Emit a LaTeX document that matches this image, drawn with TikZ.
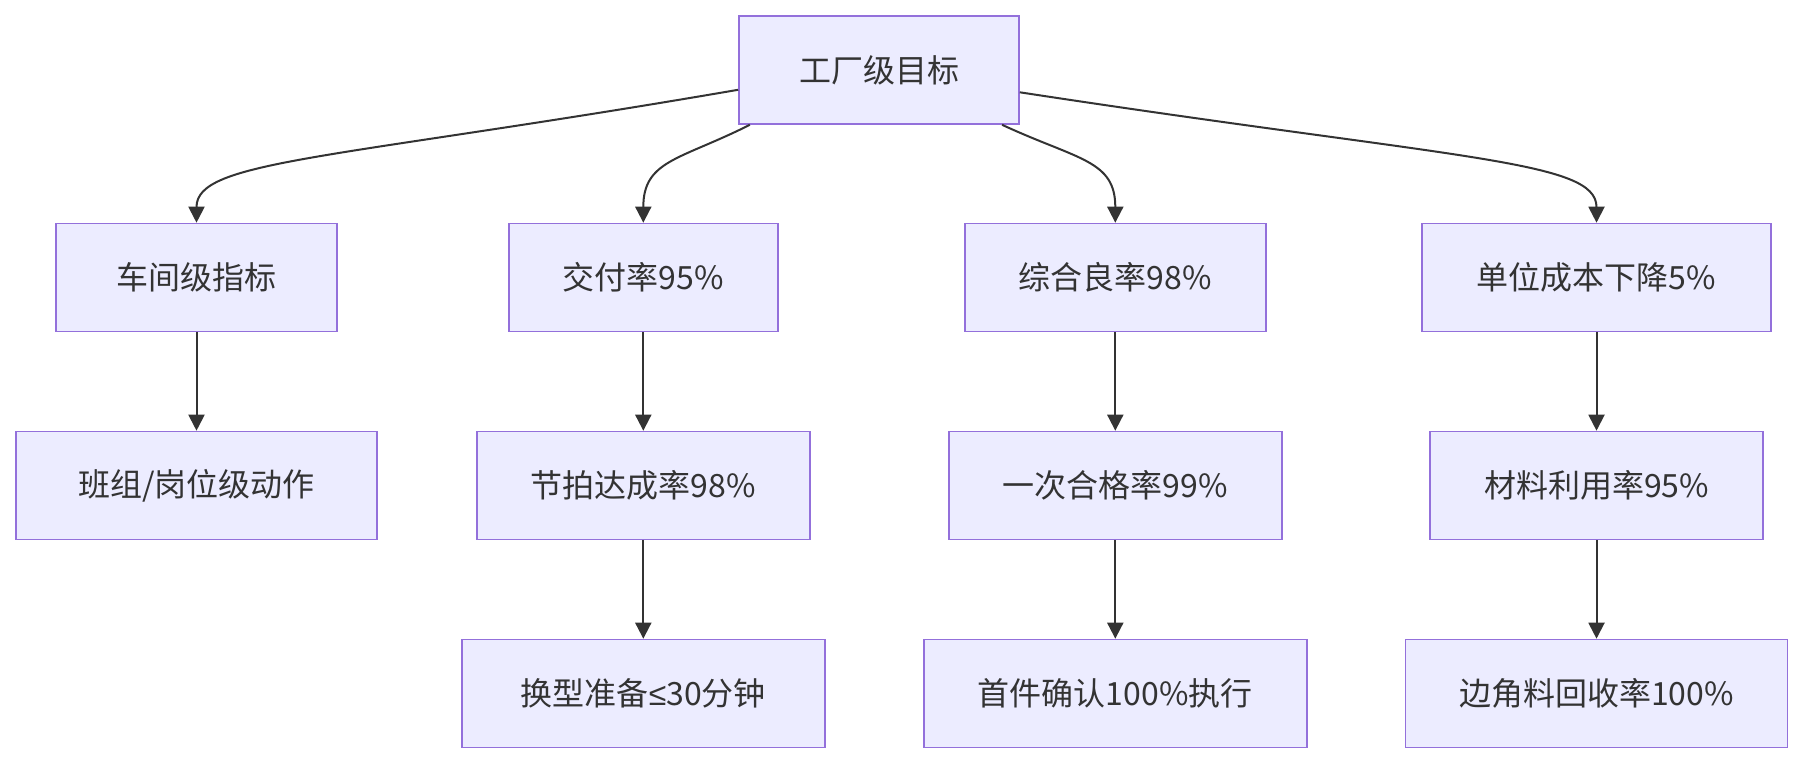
\documentclass[tikz,border=0pt]{standalone}
\usepackage{fontspec}
\setmainfont{Noto Sans CJK SC}
\newfontfamily\symfont{Liberation Sans}
\usetikzlibrary{arrows.meta}
\definecolor{kfill}{HTML}{ECECFF}
\definecolor{kline}{HTML}{9370DB}
\definecolor{ktext}{HTML}{333333}
\tikzset{
  kbox/.style={draw=kline, fill=kfill, line width=0.8pt, text=ktext, minimum height=54pt, inner sep=0pt, font=\fontsize{16pt}{19pt}\selectfont},
  karrow/.style={-{Triangle[length=8pt,width=8pt]}, draw=ktext, line width=1pt}
}

\begin{document}
\begin{tikzpicture}[x=0.5pt, y=-0.5pt]
    \useasboundingbox (0,0) rectangle (1803,764);
    \node[kbox, minimum width=140pt] (n0) at (879,70) {工厂级目标};
    \node[kbox, minimum width=140.5pt] (n11) at (196.5,277.5) {车间级指标};
    \node[kbox, minimum width=180.5pt] (n12) at (196.5,485.5) {班组/岗位级动作};
    \node[kbox, minimum width=134.5pt] (n21) at (643.3,277.5) {交付率95\%};
    \node[kbox, minimum width=166.5pt] (n22) at (643.3,485.5) {节拍达成率98\%};
    \node[kbox, minimum width=181.5pt] (n23) at (643.3,693.5) {换型准备{\symfont ≤}30分钟};
    \node[kbox, minimum width=150.5pt] (n31) at (1115.3,277.5) {综合良率98\%};
    \node[kbox, minimum width=166.5pt] (n32) at (1115.3,485.5) {一次合格率99\%};
    \node[kbox, minimum width=191.5pt] (n33) at (1115.3,693.5) {首件确认100\%执行};
    \node[kbox, minimum width=174.5pt] (n41) at (1596.5,277.5) {单位成本下降5\%};
    \node[kbox, minimum width=166.5pt] (n42) at (1596.5,485.5) {材料利用率95\%};
    \node[kbox, minimum width=191pt] (n43) at (1596.5,693.5) {边角料回收率100\%};
    \draw[karrow] (n0.188.5) .. controls (330,160) and (196.5,160) .. (n11.north);
    \draw[karrow] (n0.203.9) .. controls (680,160) and (643.3,160) .. (n21.north);
    \draw[karrow] (n0.336.9) .. controls (1078,160) and (1115.3,160) .. (n31.north);
    \draw[karrow] (n0.351.9) .. controls (1462,160) and (1596.5,160) .. (n41.north);
    \draw[karrow] (n11.south) -- (n12.north);
    \draw[karrow] (n21.south) -- (n22.north);
    \draw[karrow] (n22.south) -- (n23.north);
    \draw[karrow] (n31.south) -- (n32.north);
    \draw[karrow] (n32.south) -- (n33.north);
    \draw[karrow] (n41.south) -- (n42.north);
    \draw[karrow] (n42.south) -- (n43.north);
  \end{tikzpicture}
\end{document}
